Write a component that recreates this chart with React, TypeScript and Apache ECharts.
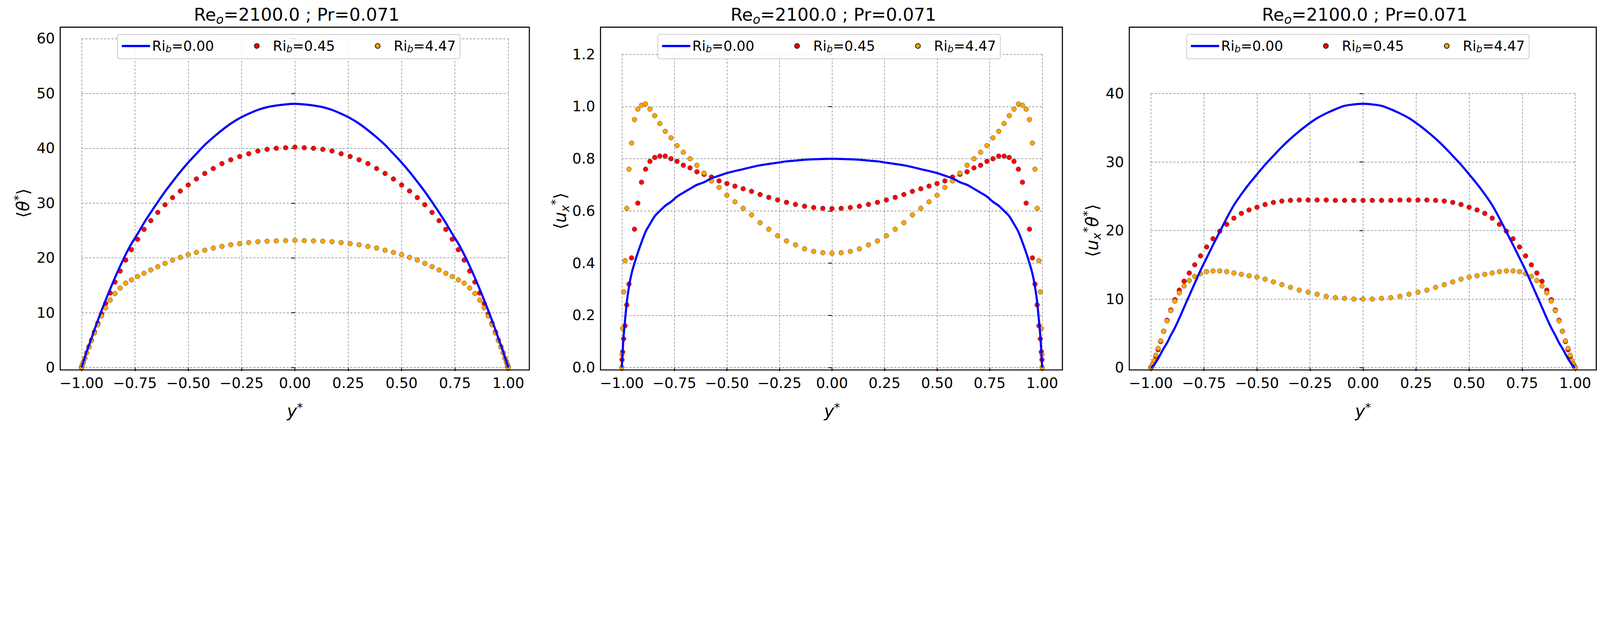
import { useEffect, useRef } from 'react'
import * as echarts from 'echarts'

// wall-normal positions y*, from -1 to 1
const Y_POS = [
  -1, -0.99905, -0.99619, -0.99144, -0.98481, -0.9763, -0.96593, -0.95372, -0.93969, -0.92388,
  -0.90631, -0.88701, -0.86603, -0.84339, -0.81915, -0.79335, -0.76604, -0.73728, -0.70711,
  -0.67559, -0.64279, -0.60876, -0.57358, -0.5373, -0.5, -0.46175, -0.42262, -0.38268, -0.34202,
  -0.30071, -0.25882, -0.21644, -0.17365, -0.13053, -0.08716, -0.04362, 0,
  0.04362, 0.08716, 0.13053, 0.17365, 0.21644, 0.25882, 0.30071, 0.34202, 0.38268, 0.42262,
  0.46175, 0.5, 0.5373, 0.57358, 0.60876, 0.64279, 0.67559, 0.70711, 0.73728, 0.76604, 0.79335,
  0.81915, 0.84339, 0.86603, 0.88701, 0.90631, 0.92388, 0.93969, 0.95372, 0.96593, 0.9763,
  0.98481, 0.99144, 0.99619, 0.99905, 1,
]

const THETA_RI0 = [
  0, 0.1, 0.5, 1.1, 1.8, 2.9, 4.0, 5.3, 6.9, 8.6, 10.4, 12.3, 14.3, 16.4, 18.5, 20.6, 22.6, 24.4,
  26.4, 28.3, 30.2, 32.1, 33.9, 35.7, 37.4, 39.0, 40.6, 42.0, 43.3, 44.5, 45.5, 46.3, 47.0, 47.5,
  47.8, 48.0, 48.1,
  48.0, 47.8, 47.5, 47.0, 46.3, 45.5, 44.5, 43.3, 42.0, 40.6, 39.0, 37.4, 35.7, 33.9, 32.1, 30.2,
  28.3, 26.4, 24.4, 22.6, 20.6, 18.5, 16.4, 14.3, 12.3, 10.4, 8.6, 6.9, 5.3, 4.0, 2.9, 1.8, 1.1,
  0.5, 0.1, 0,
]
const THETA_RI045 = [
  0, 0.1, 0.5, 1.0, 1.7, 2.7, 3.8, 5.0, 6.5, 8.1, 9.8, 11.7, 13.6, 15.6, 17.6, 19.6, 21.5, 23.4,
  25.2, 26.8, 28.3, 29.7, 31.0, 32.2, 33.3, 34.4, 35.4, 36.3, 37.2, 37.9, 38.5, 39.0, 39.5, 39.8,
  40.0, 40.1, 40.2,
  40.1, 40.0, 39.8, 39.5, 39.0, 38.5, 37.9, 37.2, 36.3, 35.4, 34.4, 33.3, 32.2, 31.0, 29.7, 28.3,
  26.8, 25.2, 23.4, 21.5, 19.6, 17.6, 15.6, 13.6, 11.7, 9.8, 8.1, 6.5, 5.0, 3.8, 2.7, 1.7, 1.0,
  0.5, 0.1, 0,
]
const THETA_RI447 = [
  0, 0.1, 0.5, 1.0, 1.7, 2.7, 3.7, 4.9, 6.3, 7.8, 9.4, 10.9, 12.3, 13.5, 14.5, 15.4, 16.0, 16.6,
  17.2, 17.8, 18.4, 19.0, 19.6, 20.1, 20.6, 21.0, 21.4, 21.8, 22.1, 22.4, 22.6, 22.8, 22.95, 23.05,
  23.1, 23.15, 23.2,
  23.15, 23.1, 23.05, 22.95, 22.8, 22.6, 22.4, 22.1, 21.8, 21.4, 21.0, 20.6, 20.1, 19.6, 19.0,
  18.4, 17.8, 17.2, 16.6, 16.0, 15.4, 14.5, 13.5, 12.3, 10.9, 9.4, 7.8, 6.3, 4.9, 3.7, 2.7, 1.7,
  1.0, 0.5, 0.1, 0,
]

const UX_RI0 = [
  0, 0.015, 0.06, 0.12, 0.18, 0.25, 0.31, 0.36, 0.4, 0.44, 0.48, 0.52, 0.55, 0.58, 0.6, 0.62,
  0.635, 0.655, 0.67, 0.685, 0.7, 0.71, 0.725, 0.735, 0.745, 0.753, 0.76, 0.768, 0.775, 0.78,
  0.785, 0.79, 0.793, 0.796, 0.798, 0.799, 0.8,
  0.799, 0.798, 0.796, 0.793, 0.79, 0.785, 0.78, 0.775, 0.768, 0.76, 0.753, 0.745, 0.735, 0.725,
  0.71, 0.7, 0.685, 0.67, 0.655, 0.635, 0.62, 0.6, 0.58, 0.55, 0.52, 0.48, 0.44, 0.4, 0.36, 0.31,
  0.25, 0.18, 0.12, 0.06, 0.015, 0,
]
const UX_RI045 = [
  0, 0.03, 0.06, 0.11, 0.16, 0.24, 0.32, 0.42, 0.53, 0.63, 0.71, 0.76, 0.79, 0.805, 0.81, 0.81,
  0.8, 0.79, 0.775, 0.765, 0.75, 0.74, 0.73, 0.715, 0.705, 0.695, 0.685, 0.675, 0.663, 0.652,
  0.642, 0.633, 0.625, 0.618, 0.613, 0.61, 0.609,
  0.61, 0.613, 0.618, 0.625, 0.633, 0.642, 0.652, 0.663, 0.675, 0.685, 0.695, 0.705, 0.715, 0.73,
  0.74, 0.75, 0.765, 0.775, 0.79, 0.8, 0.81, 0.81, 0.805, 0.79, 0.76, 0.71, 0.63, 0.53, 0.42,
  0.32, 0.24, 0.16, 0.11, 0.06, 0.03, 0,
]
const UX_RI447 = [
  0, 0.05, 0.15, 0.29, 0.41, 0.61, 0.76, 0.86, 0.95, 0.99, 1.005, 1.01, 0.99, 0.965, 0.935, 0.905,
  0.88, 0.85, 0.825, 0.8, 0.775, 0.745, 0.715, 0.69, 0.66, 0.635, 0.61, 0.585, 0.555, 0.53, 0.505,
  0.485, 0.47, 0.455, 0.445, 0.44, 0.438,
  0.44, 0.445, 0.455, 0.47, 0.485, 0.505, 0.53, 0.555, 0.585, 0.61, 0.635, 0.66, 0.69, 0.715,
  0.745, 0.775, 0.8, 0.825, 0.85, 0.88, 0.905, 0.935, 0.965, 0.99, 1.01, 1.005, 0.99, 0.95, 0.86,
  0.76, 0.61, 0.41, 0.29, 0.15, 0.05, 0,
]

const UT_RI0 = [
  0, 0.01, 0.05, 0.2, 0.4, 0.8, 1.3, 2.0, 2.8, 3.6, 4.7, 5.8, 7.2, 8.8, 10.5, 12.3, 14.2, 16.0,
  17.9, 19.8, 21.8, 23.7, 25.3, 26.8, 28.2, 29.6, 30.9, 32.2, 33.4, 34.5, 35.5, 36.4, 37.1, 37.7,
  38.2, 38.4, 38.5,
  38.4, 38.2, 37.7, 37.1, 36.4, 35.5, 34.5, 33.4, 32.2, 30.9, 29.6, 28.2, 26.8, 25.3, 23.7, 21.8,
  19.8, 17.9, 16.0, 14.2, 12.3, 10.5, 8.8, 7.2, 5.8, 4.7, 3.6, 2.8, 2.0, 1.3, 0.8, 0.4, 0.2, 0.05,
  0.01, 0,
]
const UT_RI045 = [
  0, 0.02, 0.1, 0.4, 0.8, 1.6, 2.6, 3.8, 5.3, 6.9, 8.4, 9.9, 11.3, 12.6, 13.8, 15.0, 16.3, 17.6,
  18.8, 19.9, 20.9, 21.8, 22.5, 23.0, 23.4, 23.8, 24.1, 24.3, 24.4, 24.45, 24.45, 24.45, 24.45,
  24.4, 24.4, 24.4, 24.4,
  24.4, 24.4, 24.4, 24.45, 24.45, 24.45, 24.45, 24.4, 24.3, 24.1, 23.8, 23.4, 23.0, 22.5, 21.8,
  20.9, 19.9, 18.8, 17.6, 16.3, 15.0, 13.8, 12.6, 11.3, 9.9, 8.4, 6.9, 5.3, 3.8, 2.6, 1.6, 0.8,
  0.4, 0.1, 0.02, 0,
]
const UT_RI447 = [
  0, 0.05, 0.2, 0.5, 1.0, 1.8, 2.8, 3.9, 5.3, 6.8, 8.3, 9.7, 10.9, 11.9, 12.7, 13.3, 13.7, 14.0,
  14.1, 14.1, 14.0, 13.8, 13.6, 13.4, 13.2, 12.9, 12.5, 12.1, 11.7, 11.3, 11.0, 10.7, 10.4, 10.2,
  10.1, 10.0, 10.0,
  10.0, 10.1, 10.2, 10.4, 10.7, 11.0, 11.3, 11.7, 12.1, 12.5, 12.9, 13.2, 13.4, 13.6, 13.8, 14.0,
  14.1, 14.1, 14.0, 13.7, 13.3, 12.7, 11.9, 10.9, 9.7, 8.3, 6.8, 5.3, 3.9, 2.8, 1.8, 1.0, 0.5,
  0.2, 0.05, 0,
]

const SERIES_NAMES = ['Ri0', 'Ri045', 'Ri447']
const LEGEND_LABELS: Record<string, string> = {
  Ri0: 'Ri{s|b}=0.00',
  Ri045: 'Ri{s|b}=0.45',
  Ri447: 'Ri{s|b}=4.47',
}
const X_TICK_INTERVAL = 0.25
const TITLE = 'Re{s|o}=2100.0 ; Pr=0.071'

const FONT = 'DejaVu Sans'
const REF_W = 6003
const REF_H = 1596

// layout in reference pixels: data-range grid and outer frame of each panel
const PANELS = [
  { grid: [306, 145, 1601, 1235], frame: [226, 102, 1986, 1389], yMax: 60, yInt: 10, digits: 0, yName: '⟨{i|θ}{sup|*}⟩', values: [THETA_RI0, THETA_RI045, THETA_RI447] },
  { grid: [2333, 204, 1577, 1176], frame: [2253, 102, 3986, 1389], yMax: 1.2, yInt: 0.2, digits: 1, yName: '⟨{i|u}{sub|x}{sup|*}⟩', values: [UX_RI0, UX_RI045, UX_RI447] },
  { grid: [4318, 351, 1592, 1029], frame: [4237, 102, 5989, 1389], yMax: 40, yInt: 10, digits: 0, yName: '⟨{i|u}{sub|x}{sup|*}{i|θ}{sup|*}⟩', values: [UT_RI0, UT_RI045, UT_RI447] },
]

const minus = (s: string) => s.replace('-', '\u2212')

function buildOption(s: number) {
  const px = (v: number) => v * s
  const dash = [px(8), px(6)]

  const grids = PANELS.map((p) => ({
    left: px(p.grid[0]),
    top: px(p.grid[1]),
    width: px(p.grid[2]),
    height: px(p.grid[3]),
  }))

  const xAxes = PANELS.map((p, i) => ({
    type: 'value',
    gridIndex: i,
    min: -1,
    max: 1,
    interval: X_TICK_INTERVAL,
    offset: px(p.frame[3] - (p.grid[1] + p.grid[3])),
    name: '{i|y}{sup|*}',
    nameLocation: 'middle',
    nameGap: px(118),
    nameTextStyle: {
      rich: {
        i: { fontFamily: FONT, fontStyle: 'italic', fontSize: px(64), color: '#000' },
        sup: { fontFamily: FONT, fontSize: px(44), color: '#000', verticalAlign: 'top', lineHeight: px(70) },
      },
    },
    axisLine: { show: false },
    axisTick: { show: true, length: px(14), lineStyle: { color: '#000', width: px(3) } },
    axisLabel: {
      fontFamily: FONT,
      fontSize: px(54),
      color: '#000',
      margin: px(22),
      formatter: (v: number) => minus(v.toFixed(2)),
    },
    splitLine: { show: true, lineStyle: { color: '#808080', width: px(2), type: dash } },
  }))

  const yAxes = PANELS.map((p, i) => ({
    type: 'value',
    gridIndex: i,
    min: 0,
    max: p.yMax,
    interval: p.yInt,
    offset: px(p.grid[0] - p.frame[0]),
    name: p.yName,
    nameLocation: 'middle',
    nameGap: px(100),
    nameRotate: 90,
    nameTextStyle: {
      fontFamily: FONT,
      fontSize: px(64),
      color: '#000',
      rich: {
        i: { fontFamily: FONT, fontStyle: 'italic', fontSize: px(64), color: '#000' },
        sup: { fontFamily: FONT, fontSize: px(44), color: '#000', verticalAlign: 'top', lineHeight: px(80) },
        sub: { fontFamily: FONT, fontStyle: 'italic', fontSize: px(44), color: '#000', verticalAlign: 'bottom', lineHeight: px(80) },
      },
    },
    axisLine: { show: false },
    axisTick: { show: true, length: px(14), lineStyle: { color: '#000', width: px(3) } },
    axisLabel: {
      fontFamily: FONT,
      fontSize: px(54),
      color: '#000',
      margin: px(20),
      formatter: (v: number) => v.toFixed(p.digits),
    },
    splitLine: { show: true, lineStyle: { color: '#808080', width: px(2), type: dash } },
  }))

  const series: any[] = []
  PANELS.forEach((p, i) => {
    const pts = (arr: number[]) => Y_POS.map((y, k) => [y, arr[k]])
    series.push({
      type: 'line',
      name: SERIES_NAMES[0],
      xAxisIndex: i,
      yAxisIndex: i,
      data: pts(p.values[0]),
      showSymbol: false,
      symbol: 'none',
      smooth: 0.3,
      lineStyle: { color: '#0000ff', width: px(8) },
      itemStyle: { color: '#0000ff' },
    })
    series.push({
      type: 'scatter',
      name: SERIES_NAMES[1],
      xAxisIndex: i,
      yAxisIndex: i,
      data: pts(p.values[1]),
      symbolSize: px(18),
      itemStyle: { color: '#ff0000', borderColor: '#222', borderWidth: px(1), opacity: 1 },
    })
    series.push({
      type: 'scatter',
      name: SERIES_NAMES[2],
      xAxisIndex: i,
      yAxisIndex: i,
      data: pts(p.values[2]),
      symbolSize: px(18),
      itemStyle: { color: '#ffa500', borderColor: '#222', borderWidth: px(1), opacity: 1 },
    })
  })

  const legends = PANELS.map((p) => ({
    left: px(p.frame[0] + 215),
    top: px(129),
    orient: 'horizontal',
    itemWidth: px(106),
    itemHeight: px(18),
    itemGap: px(150),
    padding: [px(18), px(16), px(18), px(16)],
    backgroundColor: 'rgba(255,255,255,0.85)',
    borderColor: '#cccccc',
    borderWidth: px(3),
    borderRadius: px(8),
    data: [
      { name: SERIES_NAMES[0], icon: 'path://M0,0h100v8h-100z' },
      { name: SERIES_NAMES[1] },
      { name: SERIES_NAMES[2] },
    ],
    formatter: (name: string) => LEGEND_LABELS[name],
    textStyle: {
      fontFamily: FONT,
      fontSize: px(52),
      color: '#000',
      rich: {
        s: { fontFamily: FONT, fontStyle: 'italic', fontSize: px(36), color: '#000', verticalAlign: 'bottom', lineHeight: px(60) },
      },
    },
  }))

  const titles = PANELS.map((p) => ({
    text: TITLE,
    left: px((p.frame[0] + p.frame[2]) / 2),
    top: px(8),
    textAlign: 'center',
    textStyle: {
      fontFamily: FONT,
      fontSize: px(66),
      fontWeight: 'normal',
      color: '#000',
      rich: {
        s: { fontFamily: FONT, fontStyle: 'italic', fontSize: px(46), color: '#000', verticalAlign: 'bottom', lineHeight: px(80) },
      },
    },
  }))

  const frames = PANELS.map((p) => ({
    type: 'rect',
    shape: { x: px(p.frame[0]), y: px(p.frame[1]), width: px(p.frame[2] - p.frame[0]), height: px(p.frame[3] - p.frame[1]) },
    style: { fill: 'none', stroke: '#000', lineWidth: px(4) },
    z: 100,
    silent: true,
  }))

  return {
    animation: false,
    backgroundColor: '#ffffff',
    title: titles,
    legend: legends,
    grid: grids,
    xAxis: xAxes,
    yAxis: yAxes,
    series,
    graphic: frames,
  }
}

export default function App() {
  const ref = useRef<HTMLDivElement>(null)
  const scale = Math.min(window.innerWidth / REF_W, window.innerHeight / REF_H)

  useEffect(() => {
    if (!ref.current) return
    const chart = echarts.init(ref.current, undefined, { renderer: 'svg' })
    chart.setOption(buildOption(scale) as any)
    return () => chart.dispose()
  }, [scale])

  return (
    <div
      ref={ref}
      style={{ position: 'fixed', left: 0, top: 0, width: REF_W * scale, height: REF_H * scale, background: '#fff' }}
    />
  )
}
